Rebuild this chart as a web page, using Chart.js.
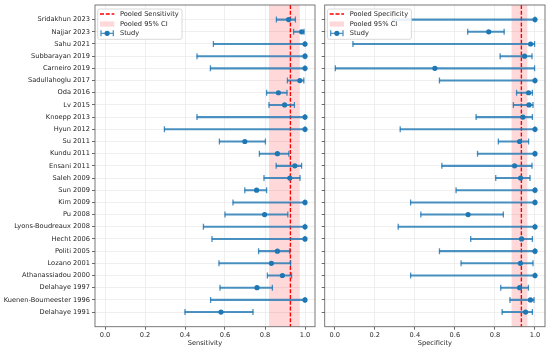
<!DOCTYPE html>
<html>
<head>
<meta charset="utf-8">
<script src="https://cdn.jsdelivr.net/npm/chart.js@4"></script>
<style>
  html, body { margin: 0; padding: 0; background: #fff; }
  #lienzo { position: relative; width: 550px; height: 351px; }
  canvas { position: absolute; top: 0; }
  #sens { left: 0; }
  #spec { left: 320px; }
</style>
</head>
<body>
<div id="lienzo">
  <canvas id="sens" width="320" height="351"></canvas>
  <canvas id="spec" width="230" height="351"></canvas>
</div>
<script>
//datos
const estudios = ['Sridakhun 2023', 'Najjar 2023', 'Sahu 2021', 'Subbarayan 2019', 'Carneiro 2019',
  'Sadullahoglu 2017', 'Oda 2016', 'Lv 2015', 'Knoepp 2013', 'Hyun 2012', 'Su 2011', 'Kundu 2011',
  'Ensani 2011', 'Saleh 2009', 'Sun 2009', 'Kim 2009', 'Pu 2008', 'Lyons-Boudreaux 2008', 'Hecht 2006',
  'Politi 2005', 'Lozano 2001', 'Athanassiadou 2000', 'Delahaye 1997', 'Kuenen-Boumeester 1996', 'Delahaye 1991'];

const sensibilidad = [0.918, 0.983, 1.0, 1.0, 1.0, 0.974, 0.867, 0.898, 1.0, 1.0, 0.699, 0.862, 0.949,
  0.924, 0.758, 1.0, 0.798, 1.0, 1.0, 0.862, 0.832, 0.887, 0.760, 1.0, 0.580];
const sensInf = [0.857, 0.943, 0.542, 0.460, 0.527, 0.912, 0.808, 0.820, 0.460, 0.297, 0.572, 0.772, 0.856,
  0.795, 0.699, 0.640, 0.600, 0.492, 0.535, 0.768, 0.570, 0.812, 0.575, 0.528, 0.400];
const sensSup = [0.952, 0.995, 1.0, 1.0, 1.0, 0.994, 0.910, 0.947, 1.0, 1.0, 0.802, 0.919, 0.983,
  0.975, 0.808, 1.0, 0.914, 1.0, 1.0, 0.923, 0.928, 0.933, 0.837, 1.0, 0.740];

const especificidad = [1.0, 0.769, 0.978, 0.948, 0.500, 1.0, 0.968, 0.970, 0.940, 1.0, 0.923, 1.0, 0.898,
  0.928, 1.0, 1.0, 0.666, 1.0, 0.933, 1.0, 0.927, 1.0, 0.923, 0.977, 0.953];
const espInf = [0.290, 0.664, 0.091, 0.826, 0.003, 0.523, 0.908, 0.892, 0.706, 0.327, 0.817, 0.713, 0.535,
  0.804, 0.606, 0.379, 0.430, 0.317, 0.679, 0.523, 0.631, 0.379, 0.829, 0.875, 0.836];
const espSup = [1.0, 0.846, 0.998, 0.985, 0.998, 1.0, 0.987, 0.990, 0.987, 1.0, 0.968, 1.0, 0.985,
  0.975, 1.0, 1.0, 0.842, 1.0, 0.987, 1.0, 0.990, 1.0, 0.967, 0.995, 0.987];

const sensPooled = 0.927;
const sensPooledIC = [0.820, 0.974];
const espPooled = 0.932;
const espPooledIC = [0.883, 0.962];

const ticksX = [0.0, 0.2, 0.4, 0.6, 0.8, 1.0];

//estilos
const azul = '#1f77b4';
const azulLinea = 'rgba(31,119,180,0.8)';
const fuente = '"DejaVu Sans", sans-serif';
const texto = '#262626';
const rejilla = '#ebebeb';
const tamLetra = 6.65;

//banda y linea pooled
const pooledPlugin = {
  id: 'pooled',
  beforeDatasetsDraw(chart, args, opts) {
    const { ctx, chartArea, scales: { x } } = chart;
    const x1 = x.getPixelForValue(opts.ic[0]);
    const x2 = x.getPixelForValue(opts.ic[1]);
    const xp = x.getPixelForValue(opts.valor);
    ctx.save();
    ctx.fillStyle = 'rgba(255,0,0,0.15)';
    ctx.fillRect(x1, chartArea.top, x2 - x1, chartArea.bottom - chartArea.top);
    ctx.strokeStyle = 'red';
    ctx.lineWidth = 1.4;
    ctx.setLineDash([4, 1.8]);
    ctx.beginPath();
    ctx.moveTo(xp, chartArea.top);
    ctx.lineTo(xp, chartArea.bottom);
    ctx.stroke();
    ctx.restore();
  }
};

//marco y leyenda
const leyendaPlugin = {
  id: 'leyenda',
  afterDatasetsDraw(chart, args, opts) {
    const { ctx, chartArea } = chart;
    ctx.save();
    ctx.strokeStyle = '#6b6b6b';
    ctx.lineWidth = 0.9;
    ctx.strokeRect(chartArea.left, chartArea.top, chartArea.right - chartArea.left, chartArea.bottom - chartArea.top);

    ctx.font = `${tamLetra}px ${fuente}`;
    const textos = [opts.pooled, 'Pooled 95% CI', 'Study'];
    const ancho = Math.max(...textos.map(t => ctx.measureText(t).width)) + 25.6;
    const x = chartArea.left + 2.7;
    const y = chartArea.top + 4;
    ctx.beginPath();
    ctx.roundRect(x, y, ancho, 30.3, 2);
    ctx.fillStyle = 'rgba(255,255,255,0.88)';
    ctx.fill();
    ctx.strokeStyle = '#d0d0d0';
    ctx.lineWidth = 0.8;
    ctx.stroke();

    const filas = [y + 5, y + 15, y + 24.3];
    const h0 = x + 2.3, h1 = x + 16.6;

    //linea roja
    ctx.strokeStyle = 'red';
    ctx.lineWidth = 1.4;
    ctx.setLineDash([4, 1.8]);
    ctx.beginPath();
    ctx.moveTo(h0, filas[0]);
    ctx.lineTo(h1, filas[0]);
    ctx.stroke();
    ctx.setLineDash([]);

    //banda
    ctx.fillStyle = 'rgba(255,0,0,0.15)';
    ctx.fillRect(h0, filas[1] - 2.6, h1 - h0, 5.2);

    //estudio
    ctx.strokeStyle = azulLinea;
    ctx.lineWidth = 1.3;
    ctx.beginPath();
    ctx.moveTo(h0 + 1, filas[2]); ctx.lineTo(h1 - 1, filas[2]);
    ctx.moveTo(h0 + 1, filas[2] - 3); ctx.lineTo(h0 + 1, filas[2] + 3);
    ctx.moveTo(h1 - 1, filas[2] - 3); ctx.lineTo(h1 - 1, filas[2] + 3);
    ctx.stroke();
    ctx.fillStyle = azul;
    ctx.beginPath();
    ctx.arc((h0 + h1) / 2, filas[2], 2.6, 0, Math.PI * 2);
    ctx.fill();

    ctx.fillStyle = texto;
    ctx.textBaseline = 'middle';
    textos.forEach((t, i) => ctx.fillText(t, x + 22.3, filas[i]));
    ctx.restore();
  }
};

//quita los margenes automaticos de las etiquetas
function sinMargen(s) {
  s.paddingTop = 0;
  s.paddingBottom = 0;
  s.paddingLeft = 0;
  s.paddingRight = 0;
}

function crearForest(id, valores, inf, sup, pooled, ic, titulo, etiqueta, anchoY, conEtiquetas) {
  const ctx = document.getElementById(id).getContext('2d');
  const letra = { family: fuente, size: tamLetra };

  return new Chart(ctx, {
    type: 'scatter',
    data: {
      datasets: [
        {
          type: 'bar',
          indexAxis: 'y',
          data: estudios.map((e, i) => ({ x: [inf[i], sup[i]], y: i })),
          backgroundColor: azulLinea,
          barThickness: 1.4,
          grouped: false
        },
        {
          data: [...inf.map((v, i) => ({ x: v, y: i })), ...sup.map((v, i) => ({ x: v, y: i }))],
          pointStyle: 'line',
          rotation: 90,
          radius: 3,
          borderColor: azulLinea,
          backgroundColor: azulLinea,
          borderWidth: 1.3
        },
        {
          data: valores.map((v, i) => ({ x: v, y: i })),
          pointStyle: 'circle',
          radius: 2.6,
          backgroundColor: azul,
          borderColor: azul,
          borderWidth: 0
        }
      ]
    },
    options: {
      responsive: false,
      animation: false,
      events: [],
      layout: { padding: { top: 5, right: 5, left: 0, bottom: 0 }, autoPadding: false },
      plugins: {
        legend: { display: false },
        tooltip: { enabled: false },
        pooled: { valor: pooled, ic },
        leyenda: { pooled: etiqueta }
      },
      scales: {
        x: {
          type: 'linear',
          min: -0.05,
          max: 1.05,
          offset: false,
          afterBuildTicks: s => { s.ticks = ticksX.map(v => ({ value: v })); },
          afterFit: s => { s.height = 24.3; sinMargen(s); },
          ticks: { callback: v => v.toFixed(1), font: letra, color: texto, padding: 1.5, maxRotation: 0, autoSkip: false },
          grid: { color: rejilla, lineWidth: 0.8, tickLength: 3, tickColor: '#444', tickWidth: 0.8, offset: false },
          border: { display: false },
          title: { display: true, text: titulo, font: letra, color: texto, padding: { top: 0, bottom: 3.6 } }
        },
        y: {
          type: 'linear',
          reverse: true,
          min: -1.2,
          max: 25.2,
          offset: false,
          afterBuildTicks: s => { s.ticks = estudios.map((e, i) => ({ value: i })); },
          afterFit: s => { s.width = anchoY; sinMargen(s); },
          ticks: { display: conEtiquetas, callback: v => estudios[v], autoSkip: false, font: letra, color: texto, padding: 2 },
          grid: { color: rejilla, lineWidth: 0.8, tickLength: 3, tickColor: '#444', tickWidth: 0.8, offset: false },
          border: { display: false }
        }
      }
    },
    plugins: [pooledPlugin, leyendaPlugin]
  });
}

crearForest('sens', sensibilidad, sensInf, sensSup, sensPooled, sensPooledIC, 'Sensitivity', 'Pooled Sensitivity', 95, true);
crearForest('spec', especificidad, espInf, espSup, espPooled, espPooledIC, 'Specificity', 'Pooled Specificity', 4.7, false);
</script>
</body>
</html>
